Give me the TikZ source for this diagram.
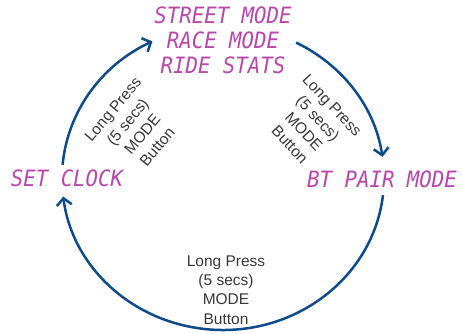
\documentclass[tikz,border=0pt]{standalone}
\usepackage{fontspec}
\setmainfont{Liberation Sans}
\newfontfamily\lcdfont[FakeStretch=0.92]{DejaVu Sans Mono}
\usetikzlibrary{arrows.meta}
\definecolor{lcdmag}{RGB}{186,70,172}
\definecolor{arcblue}{RGB}{14,74,140}
\definecolor{labgray}{RGB}{55,55,55}
\tikzset{
  lcd/.style={text=lcdmag, font=\lcdfont\itshape\fontsize{22.5}{25}\selectfont, inner sep=0pt, align=center},
  presslabel/.style={text=labgray, font=\fontsize{15.5}{19.3}\selectfont, inner sep=0pt, align=center},
  flow/.style={draw=arcblue, line width=2.5pt, -{Straight Barb[length=7pt,width=15pt]}},
}
\begin{document}
\begin{tikzpicture}[x=1pt,y=1pt]
\useasboundingbox (0,0) rectangle (462,333);
\coordinate (c) at (223,155);
% mode texts
\node[lcd] (modes) at (223,293) {STREET MODE\\RACE MODE\\RIDE STATS};
\node[lcd] (clock) at (67,154.5) {SET CLOCK};
\node[lcd] (btpair) at (382,154) {BT PAIR MODE};
% arcs
\path (c) ++(175:161 and 152) coordinate (a1);
\path (c) ++(63:161 and 152) coordinate (a2);
\path (c) ++(-6.5:161 and 152) coordinate (a3);
\draw[flow] (a1) arc[start angle=175, end angle=116, x radius=161, y radius=152];
\draw[flow] (a2) arc[start angle=63, end angle=8, x radius=161, y radius=152];
\draw[flow] (a3) arc[start angle=-6.5, end angle=-173, x radius=161, y radius=152];
% labels
\node[presslabel, rotate=50] (l1) at (135,205) {Long Press\\(5 secs)\\MODE\\Button};
\node[presslabel, rotate=-47] (l2) at (311,208) {Long Press\\(5 secs)\\MODE\\Button};
\node[presslabel] (l3) at (226,43) {Long Press\\(5 secs)\\MODE\\Button};
\end{tikzpicture}
\end{document}
